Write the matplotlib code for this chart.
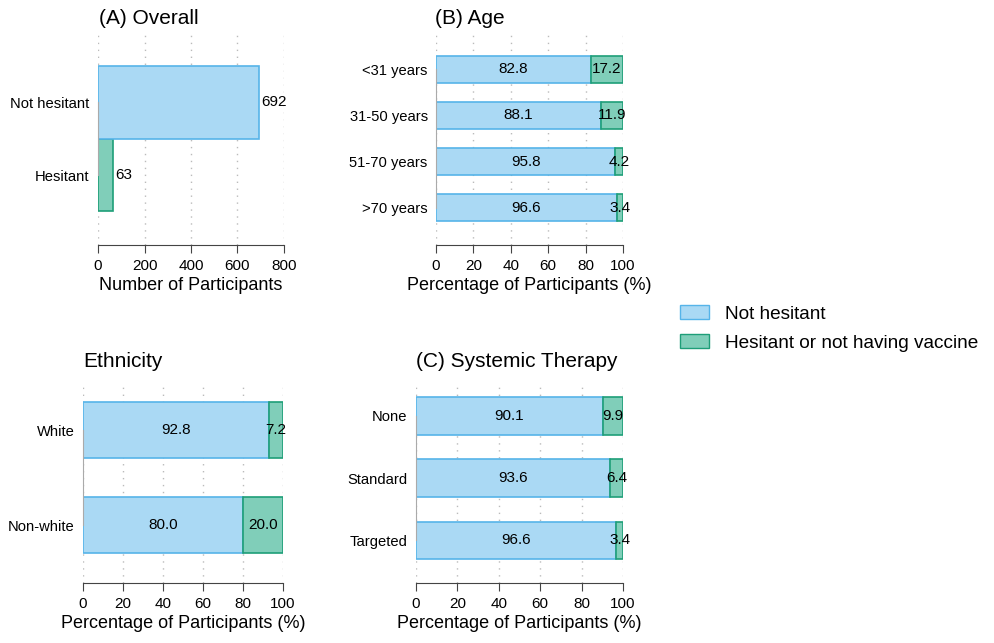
import matplotlib.pyplot as plt
from matplotlib.patches import Patch

# Dane
overall_labels = ['Hesitant', 'Not hesitant']
overall_counts = [63, 692]

age_groups = ['>70 years', '51-70 years', '31-50 years', '<31 years']
age_not = [96.6, 95.8, 88.1, 82.8]
age_hes = [3.4, 4.2, 11.9, 17.2]

eth_groups = ['Non-white', 'White']
eth_not = [80.0, 92.8]
eth_hes = [20.0, 7.2]

ther_groups = ['Targeted', 'Standard', 'None']
ther_not = [96.6, 93.6, 90.1]
ther_hes = [3.4, 6.4, 9.9]

blue_fill, blue_edge = '#AAD9F4', '#56B4E9'
green_fill, green_edge = '#80CEB9', '#1E9E78'

plt.rcParams['font.family'] = ['Liberation Sans', 'DejaVu Sans']

fig = plt.figure(figsize=(9.94, 6.43), dpi=100)


def styl(ax, xmax, step, n, ylim):
    ax.set_xlim(0, xmax)
    ax.set_ylim(*ylim)
    ax.set_xticks(range(0, xmax + 1, step))
    for s in ['top', 'right']:
        ax.spines[s].set_visible(False)
    ax.spines['bottom'].set_bounds(0, xmax)
    ax.spines['bottom'].set_color('#444444')
    ax.spines['left'].set_bounds(0, n - 1)
    ax.spines['left'].set_color('#aaaaaa')
    ax.tick_params(axis='y', length=0, pad=6, labelsize=10.6)
    ax.tick_params(axis='x', length=6, color='#444444', labelsize=11, pad=4)
    ax.grid(axis='x', linestyle=(0, (1, 4)), color='#bbbbbb', linewidth=1)
    ax.set_axisbelow(True)


def stacked(ax, groups, not_h, hes, width, ylim):
    y = list(range(len(groups)))
    ax.barh(y, not_h, height=width, color=blue_fill, edgecolor=blue_edge, linewidth=1.2)
    ax.barh(y, hes, left=not_h, height=width, color=green_fill, edgecolor=green_edge, linewidth=1.2)
    for i in y:
        ax.text(not_h[i] / 2, i, f'{not_h[i]:.1f}', ha='center', va='center', fontsize=11)
        ax.text(not_h[i] + hes[i] / 2, i, f'{hes[i]:.1f}', ha='center', va='center', fontsize=11)
    ax.set_yticks(y)
    ax.set_yticklabels(groups)
    styl(ax, 100, 20, len(groups), ylim)
    ax.set_xlabel('Percentage of Participants (%)', fontsize=13, labelpad=3)


# (A) Overall
axA = fig.add_axes([0.0986, 0.619, 0.1871, 0.3297])
axA.barh([0, 1], overall_counts, height=1.0,
         color=[green_fill, blue_fill], edgecolor=[green_edge, blue_edge], linewidth=1.2)
for i, v in enumerate(overall_counts):
    axA.text(v + 12, i, str(v), ha='left', va='center', fontsize=11)
axA.set_yticks([0, 1])
axA.set_yticklabels(overall_labels)
styl(axA, 800, 200, 2, (-0.96, 1.95))
axA.set_xlabel('Number of Participants', fontsize=13, labelpad=3)
fig.text(0.0996, 0.972, '(A) Overall', fontsize=15, va='center')

# (B) Age
axB = fig.add_axes([0.4386, 0.619, 0.1882, 0.3297])
stacked(axB, age_groups, age_not, age_hes, 0.6, (-0.81, 3.79))
fig.text(0.4376, 0.972, '(B) Age', fontsize=15, va='center')

# Ethnicity
axE = fig.add_axes([0.0835, 0.0933, 0.2012, 0.3111])
stacked(axE, eth_groups, eth_not, eth_hes, 0.59, (-0.61, 1.5))
fig.text(0.0835, 0.438, 'Ethnicity', fontsize=15, va='center')

# (C) Systemic Therapy
axC = fig.add_axes([0.4185, 0.0933, 0.2083, 0.3111])
stacked(axC, ther_groups, ther_not, ther_hes, 0.6, (-0.69, 2.53))
fig.text(0.4185, 0.438, '(C) Systemic Therapy', fontsize=15, va='center')

# Legenda
handles = [Patch(facecolor=blue_fill, edgecolor=blue_edge, label='Not hesitant'),
           Patch(facecolor=green_fill, edgecolor=green_edge, label='Hesitant or not having vaccine')]
fig.legend(handles=handles, loc='center left', bbox_to_anchor=(0.667, 0.489),
           frameon=False, fontsize=13.7, handlelength=1.5, handleheight=0.74,
           handletextpad=0.85, labelspacing=0.6)

plt.savefig('out.png', dpi=100)
